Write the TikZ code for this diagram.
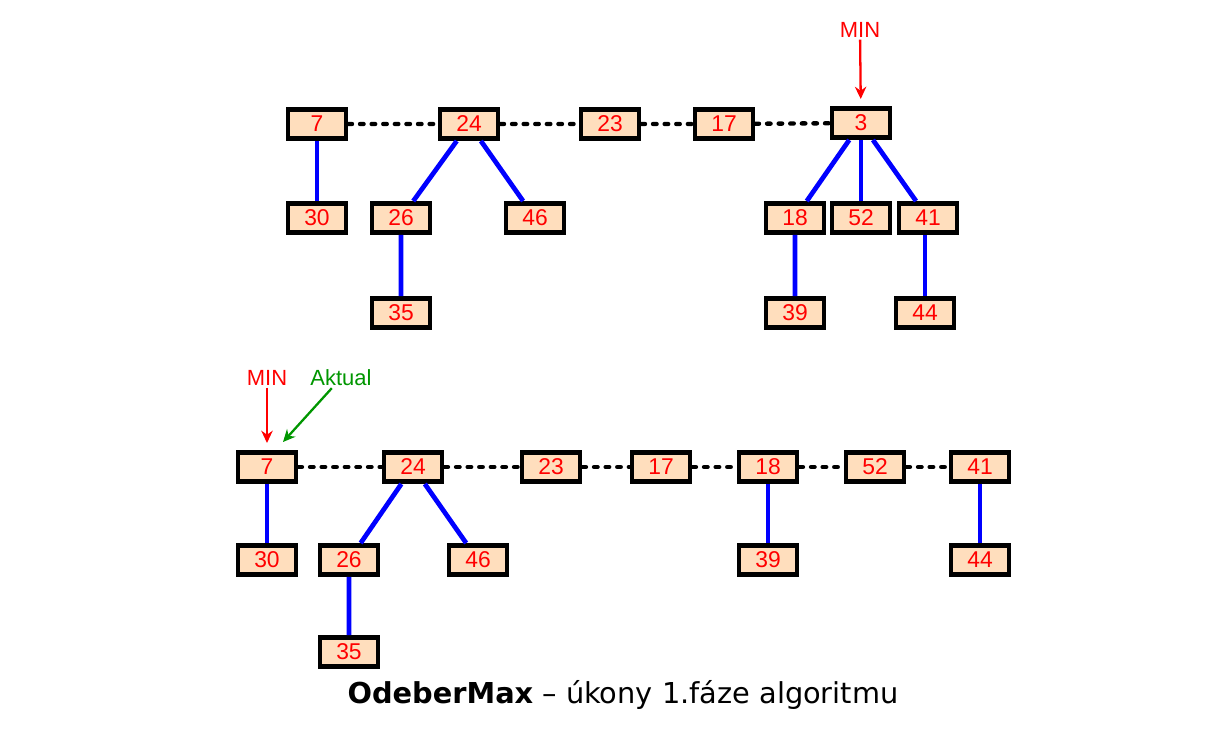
\documentclass[tikz,border=0pt]{standalone}
\usepackage{fontspec}
\setmainfont{Liberation Sans}
\newfontfamily\capfont{DejaVu Sans}
\usetikzlibrary{arrows.meta}
\definecolor{peach}{RGB}{255,222,189}
\definecolor{aktgreen}{RGB}{0,150,0}

\begin{document}
\begin{tikzpicture}[x=0.02cm,y=-0.02cm,
    box/.style={draw,line width=2.8pt,fill=peach,text=red,minimum width=1.16cm,
        minimum height=0.58cm,inner sep=0pt,font=\fontsize{13}{15}\selectfont},
    tree/.style={blue,line width=2.7pt},
    chain/.style={black,line width=2.5pt,line cap=round,dash pattern=on 2pt off 4.6pt},
    ptr/.style={-{Stealth[length=7pt,width=6.5pt]},line width=1.3pt,shorten >=4pt},
    lbl/.style={inner sep=1pt,font=\fontsize{12.5}{14}\selectfont}]
    \useasboundingbox (0,0) rectangle (1231,751);
    %First heap list, MIN on 3
    \node[box] (t7) at (317,124) {7};
    \node[box] (t24) at (469,124) {24};
    \node[box] (t23) at (610,124) {23};
    \node[box] (t17) at (724,124) {17};
    \node[box] (t3) at (861,123) {3};
    \node[box] (t30) at (317,218) {30};
    \node[box] (t26) at (401,218) {26};
    \node[box] (t46) at (535,218) {46};
    \node[box] (t18) at (795,218) {18};
    \node[box] (t52) at (861,218) {52};
    \node[box] (t41) at (928,218) {41};
    \node[box] (t35) at (401,313) {35};
    \node[box] (t39) at (795,313) {39};
    \node[box] (t44) at (925,313) {44};
    \draw[chain] (t7) -- (t24) -- (t23) -- (t17) -- (t3);
    \draw[tree] (t7) -- (t30);
    \draw[tree] (t24) -- (t26) -- (t35);
    \draw[tree] (t24) -- (t46);
    \draw[tree] (t3) -- (t18) -- (t39);
    \draw[tree] (t3) -- (t52);
    \draw[tree] (t3) -- (t41);
    \draw[tree] (t44) -- (t44 |- t41.south);
    \node[lbl,text=red] (tmin) at (860,30) {MIN};
    \draw[ptr,red] (tmin) -- (t3);
    %Second list after the children of 3 are moved up
    \node[box] (b7) at (267,467) {7};
    \node[box] (b24) at (413,467) {24};
    \node[box] (b23) at (551,467) {23};
    \node[box] (b17) at (661,467) {17};
    \node[box] (b18) at (768,467) {18};
    \node[box] (b52) at (875,467) {52};
    \node[box] (b41) at (980,467) {41};
    \node[box] (b30) at (267,560) {30};
    \node[box] (b26) at (349,560) {26};
    \node[box] (b46) at (478,560) {46};
    \node[box] (b39) at (768,560) {39};
    \node[box] (b44) at (980,560) {44};
    \node[box] (b35) at (349,652) {35};
    \draw[chain] (b7) -- (b24) -- (b23) -- (b17) -- (b18) -- (b52) -- (b41);
    \draw[tree] (b7) -- (b30);
    \draw[tree] (b24) -- (b26) -- (b35);
    \draw[tree] (b24) -- (b46);
    \draw[tree] (b18) -- (b39);
    \draw[tree] (b41) -- (b44);
    \node[lbl,text=red] (bmin) at (267,378) {MIN};
    \node[lbl,text=aktgreen] (akt) at (341,378) {Aktual};
    \coordinate (aktend) at (283,442);
    \draw[ptr,red] (bmin) -- (b7);
    \draw[ptr,aktgreen,shorten >=0pt] (akt) -- (aktend);
    \node[font=\capfont\fontsize{16.4}{19}\selectfont] (cap) at (623,695)
        {\textbf{OdeberMax} – úkony 1.fáze algoritmu};
\end{tikzpicture}
\end{document}
